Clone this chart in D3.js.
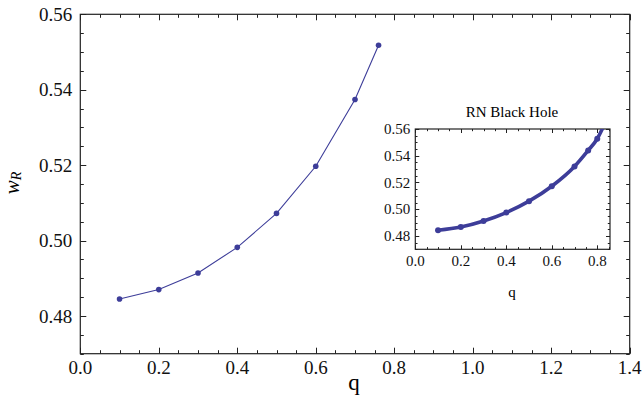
<!DOCTYPE html>
<html><head><meta charset="utf-8">
<script src="https://cdn.jsdelivr.net/npm/d3@7"></script>
<style>body{margin:0;background:#fff}svg{display:block}</style>
</head><body><svg id="c" width="642" height="400" font-family="Liberation Serif, Times New Roman, DejaVu Serif, serif"></svg>
<script>
// Main series
const qMain = [0.1, 0.2, 0.3, 0.4, 0.5, 0.6, 0.7, 0.76];
const wMain = [0.4845, 0.4870, 0.4914, 0.4982, 0.5072, 0.5197, 0.5374, 0.5518];
// Inset series (RN Black Hole)
const qInset = [0.1, 0.2, 0.3, 0.4, 0.5, 0.6, 0.7, 0.76, 0.8];
const wInset = [0.4843, 0.4867, 0.4912, 0.4975, 0.5060, 0.5172, 0.5320, 0.5440, 0.5527];
const qInsetEnd = [0.822];
const wInsetEnd = [0.5600];
// Ticks
const xTicksMain = [0, 0.2, 0.4, 0.6, 0.8, 1.0, 1.2, 1.4];
const yTicksMain = [0.48, 0.50, 0.52, 0.54, 0.56];
const xTicksInset = [0, 0.2, 0.4, 0.6, 0.8];
const yTicksInset = [0.48, 0.50, 0.52, 0.54, 0.56];

const col = "#3d3d99";
const svg = d3.select("#c");
const FONT = "Liberation Serif, Times New Roman, DejaVu Serif, serif";

function minorTicks(domain, step) {
  const out = [];
  const n0 = Math.ceil(domain[0] / step - 1e-9), n1 = Math.floor(domain[1] / step + 1e-9);
  for (let i = n0; i <= n1; i++) out.push(+(i * step).toFixed(6));
  return out;
}

function framePlot(g, x, y, opts) {
  const [x0, x1] = x.range(), [y0, y1] = y.range();
  const xMinor = minorTicks(x.domain(), opts.xMinorStep);
  const yMinor = minorTicks(y.domain(), opts.yMinorStep);
  const isMajor = (v, arr) => arr.some(t => Math.abs(t - v) < 1e-6);
  const tk = g.append("g").attr("stroke", "#222").attr("stroke-width", 1);
  xMinor.forEach(v => {
    const L = isMajor(v, opts.xTicks) ? opts.major : opts.minor;
    const px = Math.round(x(v)) + 0.5;
    tk.append("line").attr("x1", px).attr("x2", px).attr("y1", y0).attr("y2", y0 - L);
    tk.append("line").attr("x1", px).attr("x2", px).attr("y1", y1).attr("y2", y1 + L);
  });
  yMinor.forEach(v => {
    const L = isMajor(v, opts.yTicks) ? opts.major : opts.minor;
    const py = Math.round(y(v)) + 0.5;
    tk.append("line").attr("y1", py).attr("y2", py).attr("x1", x0).attr("x2", x0 + L);
    tk.append("line").attr("y1", py).attr("y2", py).attr("x1", x1).attr("x2", x1 - L);
  });
  g.append("rect").attr("x", x0).attr("y", y1).attr("width", x1 - x0).attr("height", y0 - y1)
    .attr("fill", "none").attr("stroke", "#222").attr("stroke-width", 1.2);
  g.selectAll(".xl").data(opts.xTicks).join("text")
    .attr("x", d => x(d)).attr("y", y0 + opts.xLabOff).attr("text-anchor", "middle")
    .attr("font-family", FONT).attr("fill", "#111")
    .attr("font-size", opts.fs).text(d => d.toFixed(1));
  g.selectAll(".yl").data(opts.yTicks).join("text")
    .attr("x", x0 - opts.yLabOff).attr("y", d => y(d)).attr("dy", "0.35em").attr("text-anchor", "end")
    .attr("font-family", FONT).attr("fill", "#111")
    .attr("font-size", opts.fs).text(d => d.toFixed(2));
}

// Main plot
const xM = d3.scaleLinear().domain([0, 1.4]).range([80.3, 629.7]);
const yM = d3.scaleLinear().domain([0.47, 0.56]).range([353.7, 14.3]);
const gM = svg.append("g");
framePlot(gM, xM, yM, {xTicks: xTicksMain, yTicks: yTicksMain, xMinorStep: 0.05, yMinorStep: 0.005,
  major: 6, minor: 3.5, fs: 19, xLabOff: 20, yLabOff: 8});
const mainData = qMain.map((q, i) => [q, wMain[i]]);
gM.append("path").datum(mainData)
  .attr("d", d3.line().x(d => xM(d[0])).y(d => yM(d[1])))
  .attr("fill", "none").attr("stroke", col).attr("stroke-width", 1.1);
gM.selectAll(".pt").data(mainData).join("circle")
  .attr("cx", d => xM(d[0])).attr("cy", d => yM(d[1])).attr("r", 2.8).attr("fill", col);
svg.append("text").attr("x", 354).attr("y", 390).attr("text-anchor", "middle")
  .attr("font-family", FONT).attr("font-size", 23).text("q");
const yl = svg.append("text").attr("transform", "translate(19,183) rotate(-90)").attr("text-anchor", "middle")
  .attr("font-family", FONT).attr("font-size", 21);
yl.append("tspan").attr("font-style", "italic").text("w");
yl.append("tspan").attr("font-style", "italic").attr("font-size", 14).attr("dy", 2).text("R");

// Inset
const xI = d3.scaleLinear().domain([0, 0.856]).range([415.3, 610]);
const yI = d3.scaleLinear().domain([0.47, 0.56]).range([249.3, 129]);
const gI = svg.append("g");
gI.append("rect").attr("x", 360).attr("y", 96).attr("width", 262).attr("height", 210).attr("fill", "#fff");
framePlot(gI, xI, yI, {xTicks: xTicksInset, yTicks: yTicksInset, xMinorStep: 0.05, yMinorStep: 0.005,
  major: 4, minor: 2.2, fs: 15, xLabOff: 17, yLabOff: 5});
gI.append("clipPath").attr("id", "ic").append("rect").attr("x", 415.3).attr("y", 129)
  .attr("width", 610 - 415.3).attr("height", 249.3 - 129);
const insetLine = qInset.map((q, i) => [q, wInset[i]]).concat(qInsetEnd.map((q, i) => [q, wInsetEnd[i]]));
gI.append("path").datum(insetLine).attr("clip-path", "url(#ic)")
  .attr("d", d3.line().x(d => xI(d[0])).y(d => yI(d[1])).curve(d3.curveMonotoneX))
  .attr("fill", "none").attr("stroke", col).attr("stroke-width", 3.6).attr("stroke-linecap", "round");
gI.selectAll(".ip").data(qInset.map((q, i) => [q, wInset[i]])).join("circle")
  .attr("cx", d => xI(d[0])).attr("cy", d => yI(d[1])).attr("r", 3).attr("fill", col);
svg.append("text").attr("x", 512).attr("y", 117).attr("text-anchor", "middle")
  .attr("font-family", FONT).attr("font-size", 15).text("RN Black Hole");
svg.append("text").attr("x", 512).attr("y", 297).attr("text-anchor", "middle")
  .attr("font-family", FONT).attr("font-size", 15).text("q");
</script></body></html>
